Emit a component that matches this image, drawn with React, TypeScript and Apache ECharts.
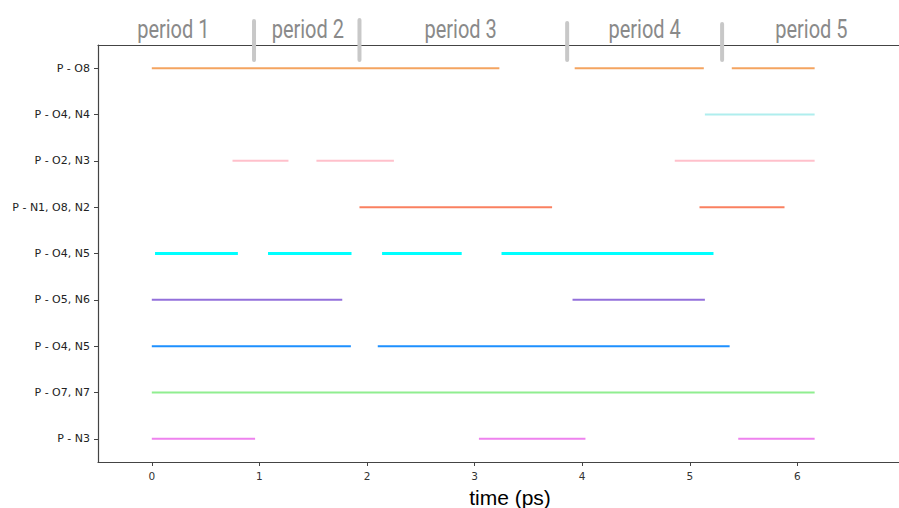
import React, { useEffect, useRef } from "react";
import * as echarts from "echarts";

// rows, bottom to top
const rowLabels = [
  "P - N3",
  "P - O7, N7",
  "P - O4, N5",
  "P - O5, N6",
  "P - O4, N5",
  "P - N1, O8, N2",
  "P - O2, N3",
  "P - O4, N4",
  "P - O8",
];
const rowColors = [
  "#ee82ee",
  "#90ee90",
  "#1e90ff",
  "#9370db",
  "#00ffff",
  "#fa8060",
  "#ffc0cb",
  "#afeeee",
  "#f4a460",
];
const rowWidths = [2, 2, 2, 2, 3, 2, 2, 2, 2];
// [start, end] segments in ps for each row
const rowSegments: number[][][] = [
  [[0, 0.96], [3.04, 4.03], [5.45, 6.16]],
  [[0, 6.16]],
  [[0, 1.85], [2.1, 5.37]],
  [[0, 1.77], [3.91, 5.14]],
  [[0.03, 0.8], [1.08, 1.856], [2.14, 2.88], [3.25, 5.22]],
  [[1.93, 3.72], [5.09, 5.88]],
  [[0.75, 1.27], [1.53, 2.25], [4.86, 6.16]],
  [[5.14, 6.16]],
  [[0, 3.23], [3.93, 5.13], [5.39, 6.16]],
];
const xTicks = [0, 1, 2, 3, 4, 5, 6];
const periodLabels = ["period 1", "period 2", "period 3", "period 4", "period 5"];
const periodCenters = [0.2, 1.45, 2.87, 4.58, 6.13];
const periodSeparators = [0.95, 1.93, 3.86, 5.3];

export default function App() {
  const ref = useRef<HTMLDivElement>(null);
  useEffect(() => {
    if (!ref.current) return;
    const chart = echarts.init(ref.current, null, { renderer: "svg" });
    const data: any[] = [];
    rowSegments.forEach((segs, r) => {
      segs.forEach((s) => data.push([s[0], s[1], r]));
    });
    const xMin = -0.5;
    const xMax = 6.944;
    chart.setOption({
      animation: false,
      grid: { left: 98, top: 45, right: 0, bottom: 46, containLabel: false },
      xAxis: [
        {
          type: "value",
          min: xMin,
          max: xMax,
          splitLine: { show: false },
          axisLine: { show: true, onZero: false, lineStyle: { color: "#444", width: 1.2 } },
          axisTick: {
            show: true,
            length: 4,
            customValues: xTicks,
            lineStyle: { color: "#444" },
          },
          axisLabel: {
            customValues: xTicks,
            fontFamily: "DejaVu Sans",
            fontSize: 10.5,
            color: "#333",
            margin: 8,
          },
        },
        {
          type: "value",
          position: "top",
          min: xMin,
          max: xMax,
          splitLine: { show: false },
          axisLine: { show: true, onZero: false, lineStyle: { color: "#444", width: 1.2 } },
          axisTick: { show: false },
          axisLabel: { show: false },
        },
      ],
      yAxis: {
        type: "category",
        data: rowLabels,
        boundaryGap: true,
        axisLine: { show: true, onZero: false, lineStyle: { color: "#444", width: 1.2 } },
        axisTick: { show: true, length: 4, alignWithLabel: true, lineStyle: { color: "#444" } },
        axisLabel: {
          fontFamily: "DejaVu Sans",
          fontSize: 11,
          color: "#222",
          margin: 8,
          formatter: (_v: string, i: number) => rowLabels[i],
        },
        splitLine: { show: false },
      },
      series: [
        {
          type: "custom",
          xAxisIndex: 0,
          encode: { x: [0, 1], y: 2 },
          data,
          renderItem: (params: any, api: any) => {
            const r = api.value(2);
            const p0 = api.coord([api.value(0), r]);
            const p1 = api.coord([api.value(1), r]);
            return {
              type: "line",
              shape: { x1: p0[0], y1: p0[1], x2: p1[0], y2: p1[1] },
              style: { stroke: rowColors[r], lineWidth: rowWidths[r] },
            };
          },
        },
      ],
    });
    const graphics: any[] = [];
    periodLabels.forEach((t, i) => {
      const x = chart.convertToPixel({ xAxisIndex: 0 }, periodCenters[i]);
      graphics.push({
        type: "text",
        x,
        y: 42,
        scaleX: 0.8,
        style: {
          text: t,
          x: 0,
          y: 0,
          fontFamily: "Roboto",
          fontSize: 25,
          fill: "#8a8a8a",
          textAlign: "center",
          textVerticalAlign: "bottom",
        },
        z: 10,
      });
    });
    const sepTop = [21, 20, 23, 24];
    periodSeparators.forEach((v, i) => {
      const x = chart.convertToPixel({ xAxisIndex: 0 }, v);
      graphics.push({
        type: "line",
        shape: { x1: x, y1: sepTop[i], x2: x, y2: 60 },
        style: { stroke: "#c8c8c8", lineWidth: 4, lineCap: "round" },
        z: 10,
      });
    });
    graphics.push({
      type: "text",
      x: 510,
      y: 497,
      style: {
        text: "time (ps)",
        fontFamily: "Liberation Sans",
        fontSize: 21,
        fill: "#000",
        textAlign: "center",
        textVerticalAlign: "middle",
      },
    });
    chart.setOption({ graphic: graphics });
    return () => chart.dispose();
  }, []);
  return (
    <div
      ref={ref}
      style={{ position: "fixed", left: 0, top: 0, width: 899, height: 508, background: "#fff" }}
    />
  );
}
